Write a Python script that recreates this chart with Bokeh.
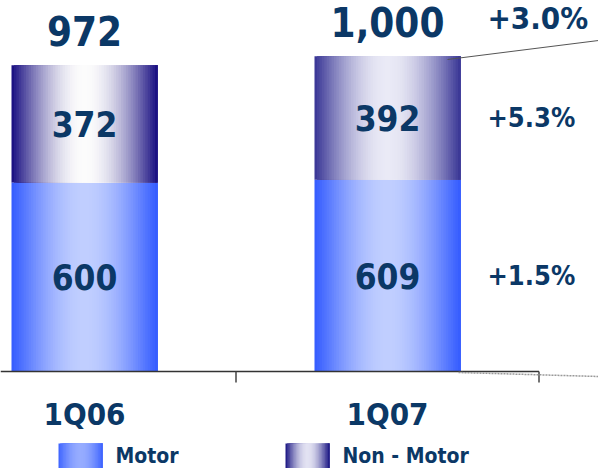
import numpy as np
from bokeh.plotting import figure
from bokeh.models import Range1d
from bokeh.core.properties import value
from bokeh.embed import file_html
from bokeh.resources import INLINE

# ---------------- data ----------------
categories = ["1Q06", "1Q07"]
motor = [600, 609]
non_motor = [372, 392]
total_labels = ["972", "1,000"]
growth_labels = ["+1.5%", "+5.3%", "+3.0%"]   # motor, non-motor, total
series_names = ["Motor", "Non - Motor"]

# ---------------- layout ----------------
W, H = 598, 468
PX = 0.315       # screen px per data unit
CAT = 303.0      # screen px per category
REF_X0 = 84.0    # screen x of first category centre
REF_Y0 = 371.0   # screen y of zero line

def dx(px):  # screen px -> data x
    return (px - REF_X0) / CAT

def dy(py):  # screen py -> data y
    return (REF_Y0 - py) / PX

x_start, x_end = dx(0), dx(W)
y_start, y_end = dy(H), dy(0)

NAVY = "#0b3866"
FONT = value("DejaVu Sans Condensed")

p = figure(width=W, height=H, x_range=Range1d(x_start, x_end),
           y_range=Range1d(y_start, y_end), output_backend="svg",
           toolbar_location=None, min_border=0,
           x_axis_location=None, y_axis_location=None)
p.grid.visible = False
p.outline_line_color = None
p.background_fill_color = "white"


def hexcol(c):
    c = np.clip(np.round(c), 0, 255).astype(int)
    return "#%02x%02x%02x" % tuple(c)


def gradient(xl, xr, bottom, top, edge, center, n=60, power=1.0):
    ts = (np.arange(n) + 0.5) / n
    w = np.sin(np.pi * ts) ** power
    edge = np.array(edge, float)
    center = np.array(center, float)
    cols = [hexcol(edge * (1 - wi) + center * wi) for wi in w]
    lefts = xl + np.arange(n) * (xr - xl) / n
    p.quad(left=lefts, right=[xr] * n, bottom=[bottom] * n, top=[top] * n,
           fill_color=cols, line_color=None)


MOTOR_EDGE, MOTOR_CENTER = (52, 92, 255), (192, 206, 255)
NM_STYLES = [((22, 12, 128), (252, 252, 252)), ((55, 52, 148), (234, 234, 246))]

bw = 146 / CAT
xs = np.arange(len(categories))
for i, xc in enumerate(xs):
    gradient(xc - bw / 2, xc + bw / 2, 0, motor[i], MOTOR_EDGE, MOTOR_CENTER, power=1.1)
    e, c = NM_STYLES[i]
    gradient(xc - bw / 2, xc + bw / 2, motor[i], motor[i] + non_motor[i], e, c, power=1.0)

# axis line and ticks
p.line(x=[x_start, 1.5], y=[0, 0], line_color="#333333", line_width=1.5)
p.segment(x0=[0.5, 1.5], y0=[0, 0], x1=[0.5, 1.5], y1=[-11 / PX] * 2,
          line_color="#444444", line_width=1.5)

# bracket lines
p.line(x=[dx(447), dx(598)], y=[dy(59), dy(40)], line_color="#555555", line_width=1)
p.line(x=[dx(458), dx(598)], y=[dy(372), dy(376)], line_color="#999999",
       line_width=1.5, line_dash="2 1")

totals = [m + n for m, n in zip(motor, non_motor)]

# total labels
p.text(x=xs, y=[t + 34 / PX for t in totals], text=total_labels,
       text_font=FONT, text_font_style="bold", text_font_size="40px",
       text_color=NAVY, text_align="center", text_baseline="middle")
# segment labels
p.text(x=xs, y=[m / 2 for m in motor], text=[str(m) for m in motor],
       text_font=FONT, text_font_style="bold", text_font_size="35px",
       text_color=NAVY, text_align="center", text_baseline="middle")
p.text(x=xs, y=[m + n / 2 for m, n in zip(motor, non_motor)],
       text=[str(n) for n in non_motor],
       text_font=FONT, text_font_style="bold", text_font_size="35px",
       text_color=NAVY, text_align="center", text_baseline="middle")
# growth labels
gx = dx(487)
p.text(x=[gx, gx], y=[motor[1] / 2, motor[1] + non_motor[1] / 2],
       text=growth_labels[:2], text_font=FONT, text_font_style="bold",
       text_font_size="27px", text_color=NAVY, text_align="left",
       text_baseline="middle")
p.text(x=[gx], y=[totals[1] + 38 / PX], text=[growth_labels[2]],
       text_font=FONT, text_font_style="bold", text_font_size="31px",
       text_color=NAVY, text_align="left", text_baseline="middle")

# category labels
p.text(x=xs, y=[dy(413)] * 2, text=categories, text_font=FONT,
       text_font_style="bold", text_font_size="31px", text_color=NAVY,
       text_align="center", text_baseline="middle")

# legend
gradient(dx(58), dx(102), y_start, dy(443), (62, 100, 255), (150, 172, 255), n=30)
gradient(dx(285), dx(329), y_start, dy(443), (25, 20, 130), (226, 226, 242), n=30)
p.text(x=[dx(115), dx(342)], y=[dy(455)] * 2, text=series_names, text_font=FONT,
       text_font_style="bold", text_font_size="21px", text_color=NAVY,
       text_align="left", text_baseline="middle")

open("out.html", "w").write(file_html(p, INLINE))
